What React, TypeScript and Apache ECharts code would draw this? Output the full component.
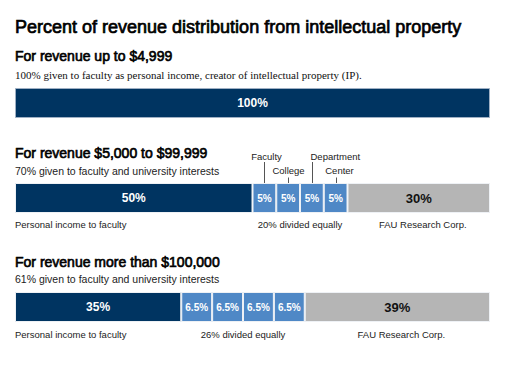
import React, { useEffect, useRef } from "react";
import * as echarts from "echarts";

const chartTitle = "Percent of revenue distribution from intellectual property";
const headings = [
  "For revenue up to $4,999",
  "For revenue $5,000 to $99,999",
  "For revenue more than $100,000",
];
const subtitles = [
  "100% given to faculty as personal income, creator of intellectual property (IP).",
  "70% given to faculty and university interests",
  "61% given to faculty and university interests",
];
const bar1Values = [100];
const bar2Values = [50, 5, 5, 5, 5, 30];
const bar3Values = [35, 6.5, 6.5, 6.5, 6.5, 39];
const segmentKinds = ["faculty", "share", "share", "share", "share", "fau"];
const bar2Callouts = ["Faculty", "College", "Department", "Center"];
const bottomLabels2 = ["Personal income to faculty", "20% divided equally", "FAU Research Corp."];
const bottomLabels3 = ["Personal income to faculty", "26% divided equally", "FAU Research Corp."];

const COLORS: Record<string, string> = {
  faculty: "#003461",
  share: "#4f88c6",
  fau: "#b5b5b5",
};

const GRID_TOPS = [88, 183, 292];
const BAR_H = 30;
const SANS = "'Liberation Sans', Arial, sans-serif";
const SERIF = "'Liberation Serif', 'Times New Roman', serif";

export default function App() {
  const ref = useRef<HTMLDivElement>(null);

  useEffect(() => {
    if (!ref.current) return;
    const chart = echarts.init(ref.current, undefined, { renderer: "svg" });

    const bars = [bar1Values, bar2Values, bar3Values];
    const kindsFor = (i: number) => (i === 0 ? ["faculty"] : segmentKinds);

    const series: any[] = [];
    bars.forEach((vals, gi) => {
      const kinds = kindsFor(gi);
      vals.forEach((v, j) => {
        const kind = kinds[j];
        const isFau = kind === "fau";
        const isShare = kind === "share";
        series.push({
          type: "bar",
          xAxisIndex: gi,
          yAxisIndex: gi,
          stack: "s" + gi,
          barWidth: "100%",
          data: [v],
          itemStyle: {
            color: COLORS[kind],
            borderColor: gi === 0 ? "#9fb0c4" : "#eef1f5",
            borderWidth: 1,
          },
          label: {
            show: true,
            position: "inside",
            formatter: (p: any) => p.value + "%",
            color: isFau ? "#111" : "#fff",
            fontFamily: SANS,
            fontWeight: "bold",
            fontSize: isFau ? 13 : isShare ? 10 : 12,
          },
        });
      });
    });

    chart.setOption({
      animation: false,
      backgroundColor: "#fff",
      grid: GRID_TOPS.map((t) => ({ left: 15, width: 475, top: t, height: BAR_H })),
      xAxis: GRID_TOPS.map((_, i) => ({ type: "value", gridIndex: i, min: 0, max: 100, show: false })),
      yAxis: GRID_TOPS.map((_, i) => ({ type: "category", gridIndex: i, data: ["x"], show: false })),
      series,
    });

    const px = (gi: number, v: number) => chart.convertToPixel({ xAxisIndex: gi }, v) as number;
    const cum = (arr: number[], n: number) => arr.slice(0, n).reduce((a, b) => a + b, 0);

    const graphic: any[] = [];
    const txt = (text: string, x: number, y: number, font: string, extra: any = {}) => {
      graphic.push({
        type: "text",
        x,
        y,
        style: { text, font, fill: "#000", verticalAlign: "middle", align: "left", ...extra },
      });
    };

    txt(chartTitle, 15, 27, `18px ${SANS}`, { stroke: "#000", lineWidth: 0.7 });
    const headY = [55.5, 153, 262];
    const subY = [75, 170.5, 279];
    headings.forEach((h, i) =>
      txt(h, 15, headY[i], `14px ${SANS}`, { stroke: "#000", lineWidth: 0.65 })
    );
    txt(subtitles[0], 15, subY[0], `11px ${SERIF}`, { fill: "#111" });
    txt(subtitles[1], 15, subY[1], `10.5px ${SANS}`, { fill: "#222" });
    txt(subtitles[2], 15, subY[2], `10.5px ${SANS}`, { fill: "#222" });

    // bottom labels
    const bottomRow = (gi: number, vals: number[], labels: string[], y: number) => {
      txt(labels[0], 15, y, `9.5px ${SANS}`, { fill: "#222" });
      const midShare = (px(gi, cum(vals, 1)) + px(gi, cum(vals, 5))) / 2;
      txt(labels[1], midShare, y, `9.5px ${SANS}`, { fill: "#222", align: "center" });
      const midFau = (px(gi, cum(vals, 5)) + px(gi, 100)) / 2;
      txt(labels[2], midFau + 4, y, `9.5px ${SANS}`, { fill: "#222", align: "center" });
    };
    bottomRow(1, bar2Values, bottomLabels2, 224);
    bottomRow(2, bar3Values, bottomLabels3, 334);

    // callouts above bar 2
    const calloutTextY = [156, 170.5, 156, 170.5];
    const lineTop = [162, 177.5, 162, 177.5];
    const align = ["center", "center", "left", "center"];
    const dx = [2, 0, -2, 3];
    bar2Callouts.forEach((name, k) => {
      const j = k + 1;
      const cx = Math.round(px(1, cum(bar2Values, j) + bar2Values[j] / 2)) + 0.5;
      graphic.push({
        type: "line",
        shape: { x1: cx, y1: lineTop[k], x2: cx, y2: GRID_TOPS[1] },
        style: { stroke: "#555", lineWidth: 1 },
      });
      txt(name, cx + dx[k], calloutTextY[k], `9.5px ${SANS}`, { fill: "#222", align: align[k] });
    });

    chart.setOption({ graphic });

    return () => chart.dispose();
  }, []);

  return (
    <div
      ref={ref}
      style={{ position: "absolute", left: 0, top: 0, width: 508, height: 371, background: "#fff" }}
    />
  );
}
